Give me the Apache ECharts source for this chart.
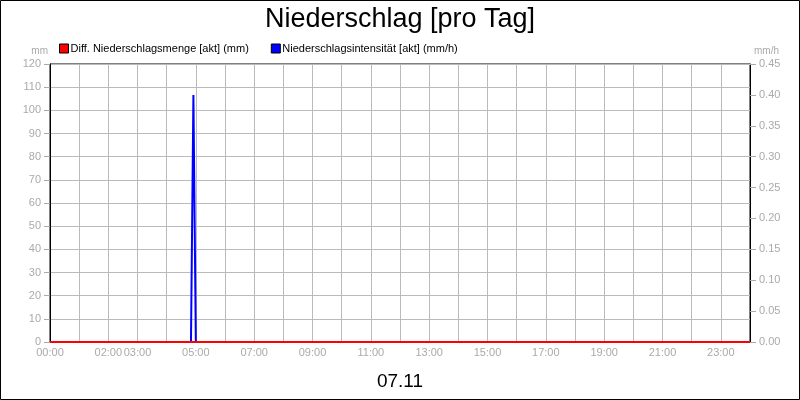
<!DOCTYPE html>
<html>
<head>
<meta charset="utf-8">
<script src="https://cdn.jsdelivr.net/npm/echarts@6/dist/echarts.min.js"></script>
<style>
html,body{margin:0;padding:0;background:#fff;}
#chart{width:800px;height:400px;}
</style>
</head>
<body>
<div id="chart"></div>
<script>
// Messwerte (Zeit als hh:mm)
var mengeZeit = ['00:00', '24:00'];
var mengeWerte = [0, 0];
var intensZeit = ['00:00', '04:50', '04:55', '05:00', '24:00'];
var intensWerte = [0, 0, 0.40, 0, 0];
// Beschriftung der Zeitachse
var zeitLabels = ['00:00', '02:00', '03:00', '05:00', '07:00', '09:00', '11:00', '13:00', '15:00', '17:00', '19:00', '21:00', '23:00'];

function stunden(t) {
	var p = t.split(':');
	return parseInt(p[0], 10) + parseInt(p[1], 10) / 60;
}
function paare(zeit, werte) {
	return zeit.map(function(t, i) { return [stunden(t), werte[i]]; });
}
function fmt(h) {
	return (h < 10 ? '0' : '') + h + ':00';
}

var chart = echarts.init(document.getElementById('chart'));
var grau = '#aaaaaa';
var schrift = 'Liberation Sans, Arial, sans-serif';

var option = {
	animation: false,
	backgroundColor: '#fff',
	textStyle: { fontFamily: schrift },
	title: [{
		text: 'Niederschlag [pro Tag]',
		left: 'center', top: 1,
		textStyle: { fontSize: 27, fontWeight: 'normal', color: '#000', fontFamily: schrift }
	}, {
		text: '07.11',
		left: 'center', top: 367,
		textStyle: { fontSize: 19, fontWeight: 'normal', color: '#000', fontFamily: schrift }
	}],
	legend: {
		left: 54, top: 38,
		icon: 'rect', itemWidth: 9, itemHeight: 9, itemGap: 22,
		textStyle: { fontSize: 11, color: '#000', padding: [0, 0, 0, -3] },
		data: [
			{ name: 'Diff. Niederschlagsmenge [akt] (mm)', itemStyle: { color: '#ff0000', borderColor: '#000', borderWidth: 1 } },
			{ name: 'Niederschlagsintensität [akt] (mm/h)', itemStyle: { color: '#0000ff', borderColor: '#000', borderWidth: 1 } }
		]
	},
	graphic: [{
		type: 'rect', silent: true,
		shape: { x: 0.5, y: 0.5, width: 799, height: 399 },
		style: { fill: 'none', stroke: '#000', lineWidth: 1 }
	}],
	grid: {
		left: 50, right: 50, top: 64, bottom: 58,
		show: true, borderColor: '#000', borderWidth: 1
	},
	xAxis: {
		type: 'value', min: 0, max: 24, interval: 1,
		axisLine: { lineStyle: { color: '#000' } },
		axisTick: { show: false },
		axisLabel: {
			color: grau, fontSize: 11, margin: 5, showMaxLabel: false,
			formatter: function(v) {
				var s = fmt(v);
				return zeitLabels.indexOf(s) >= 0 ? s : '';
			}
		},
		splitLine: { lineStyle: { color: '#bbbbbb' } }
	},
	yAxis: [{
		type: 'value', name: 'mm', min: 0, max: 120, interval: 10,
		nameGap: 8,
		nameTextStyle: { color: grau, fontSize: 10, align: 'right', padding: [0, 2, 0, 0] },
		axisLine: { show: true, lineStyle: { color: '#000' } },
		axisTick: { show: true, length: 6, lineStyle: { color: grau } },
		axisLabel: { color: grau, fontSize: 11, margin: 9 },
		splitLine: { lineStyle: { color: '#bbbbbb' } }
	}, {
		type: 'value', name: 'mm/h', min: 0, max: 0.45, interval: 0.05,
		nameGap: 8,
		nameTextStyle: { color: grau, fontSize: 10, align: 'left', padding: [0, 0, 0, 4] },
		axisLine: { show: true, lineStyle: { color: '#000' } },
		axisTick: { show: true, length: 6, lineStyle: { color: grau } },
		axisLabel: { color: grau, fontSize: 11, margin: 9, formatter: function(v) { return v.toFixed(2); } },
		splitLine: { show: false }
	}],
	series: [{
		name: 'Niederschlagsintensität [akt] (mm/h)',
		type: 'line', yAxisIndex: 1, symbol: 'none',
		lineStyle: { color: '#0000ff', width: 2 },
		itemStyle: { color: '#0000ff' },
		data: paare(intensZeit, intensWerte)
	}, {
		name: 'Diff. Niederschlagsmenge [akt] (mm)',
		type: 'line', yAxisIndex: 0, symbol: 'none', z: 3,
		lineStyle: { color: '#ff0000', width: 2 },
		itemStyle: { color: '#ff0000' },
		data: paare(mengeZeit, mengeWerte)
	}]
};
chart.setOption(option);
</script>
</body>
</html>
